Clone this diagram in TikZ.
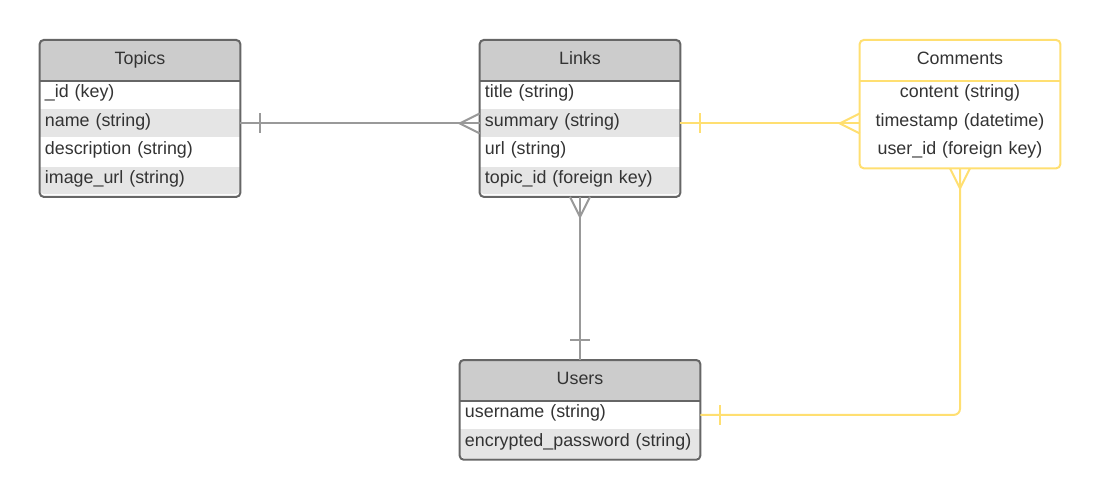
\documentclass[tikz,border=0pt]{standalone}
\usepackage{fontspec}
\setmainfont{Liberation Sans}

\begin{document}
\begin{tikzpicture}[x=0.025cm, y=-0.025cm,
  every node/.style={font=\fontsize{12.7}{15}\selectfont, text=my_text, inner sep=0pt},
  head/.style={fill=my_head, minimum width=5cm, minimum height=1cm, anchor=north, text height=9.1pt, text depth=2.7pt},
  row/.style={minimum width=5cm, text width=4.75cm, minimum height=0.7cm, anchor=north, align=left, text height=9.2pt, text depth=5.5pt},
  shaded/.style={fill=my_light},
  wide/.style={minimum width=6cm, text width=5.75cm},
  last/.style={minimum height=0.75cm, text depth=6.9pt},
  frame/.style={line width=0.05cm, draw=my_frame, rounded corners=0.1cm},
  grey_link/.style={line width=0.05cm, draw=my_line},
  yellow_link/.style={line width=0.05cm, draw=my_yellow}]
\definecolor{my_text}{RGB}{51,51,51}
\definecolor{my_head}{RGB}{204,204,204}
\definecolor{my_light}{RGB}{229,229,229}
\definecolor{my_frame}{RGB}{102,102,102}
\definecolor{my_line}{RGB}{153,153,153}
\definecolor{my_yellow}{RGB}{255,223,113}
\useasboundingbox (0,0) rectangle (1100,499);

% Topics
\begin{scope}
\clip[rounded corners=0.1cm] (40,40) rectangle (240,194);
\node[head] (topics) at (140,40) {Topics};
\node[row] (topics-id) at (topics.south) {\_id (key)};
\node[row, shaded] (topics-name) at (topics-id.south) {name (string)};
\node[row] (topics-desc) at (topics-name.south) {description (string)};
\node[row, shaded, last] (topics-img) at (topics-desc.south) {image\_url (string)};
\end{scope}
\draw[frame] (topics.north west) rectangle (topics-img.south east);
\draw[frame] (topics.south west) -- (topics.south east);

% Links
\begin{scope}
\clip[rounded corners=0.1cm] (480,40) rectangle (680,194);
\node[head] (links) at (580,40) {Links};
\node[row] (links-title) at (links.south) {title (string)};
\node[row, shaded] (links-summary) at (links-title.south) {summary (string)};
\node[row] (links-url) at (links-summary.south) {url (string)};
\node[row, shaded, last] (links-topic) at (links-url.south) {topic\_id (foreign key)};
\end{scope}
\draw[frame] (links.north west) rectangle (links-topic.south east);
\draw[frame] (links.south west) -- (links.south east);

% Comments
\node[head, fill=white] (comments) at (960,40) {Comments};
\node[row, align=center] (comments-content) at (comments.south) {content (string)};
\node[row, align=center] (comments-time) at (comments-content.south) {timestamp (datetime)};
\node[row, align=center, last] (comments-user) at (comments-time.south) {user\_id (foreign key)};
\draw[frame, draw=my_yellow] (comments.north west) rectangle (comments-user.south east);
\draw[frame, draw=my_yellow] (comments.south west) -- (comments.south east);

% Users
\begin{scope}
\clip[rounded corners=0.1cm] (460,360) rectangle (700,458);
\node[head, minimum width=6cm] (users) at (580,360) {Users};
\node[row, wide] (users-name) at (users.south) {username (string)};
\node[row, wide, shaded, last] (users-pass) at (users-name.south) {encrypted\_password (string)};
\end{scope}
\draw[frame] (users.north west) rectangle (users-pass.south east);
\draw[frame] (users.south west) -- (users.south east);

% relations
\draw[grey_link] (topics-name.east) -- (links-summary.west);
\draw[grey_link] (topics-name.east) ++(20,-10) -- ++(0,20);
\draw[grey_link] (links-summary.west) ++(0,-10) -- ++(-20,10) -- ++(20,10);

\draw[grey_link] (links-topic.south) -- (users.north);
\draw[grey_link] (links-topic.south) ++(-10,0) -- ++(10,20) -- ++(10,-20);
\draw[grey_link] (users.north) ++(-10,-20) -- ++(20,0);

\draw[yellow_link] (links-summary.east) -- (comments-time.west);
\draw[yellow_link] (links-summary.east) ++(20,-10) -- ++(0,20);
\draw[yellow_link] (comments-time.west) ++(0,-10) -- ++(-20,10) -- ++(20,10);

\draw[yellow_link, rounded corners=0.15cm] (comments-user.south) |- (users-name.east);
\draw[yellow_link] (comments-user.south) ++(-10,0) -- ++(10,20) -- ++(10,-20);
\draw[yellow_link] (users-name.east) ++(20,-10) -- ++(0,20);
\end{tikzpicture}
\end{document}
